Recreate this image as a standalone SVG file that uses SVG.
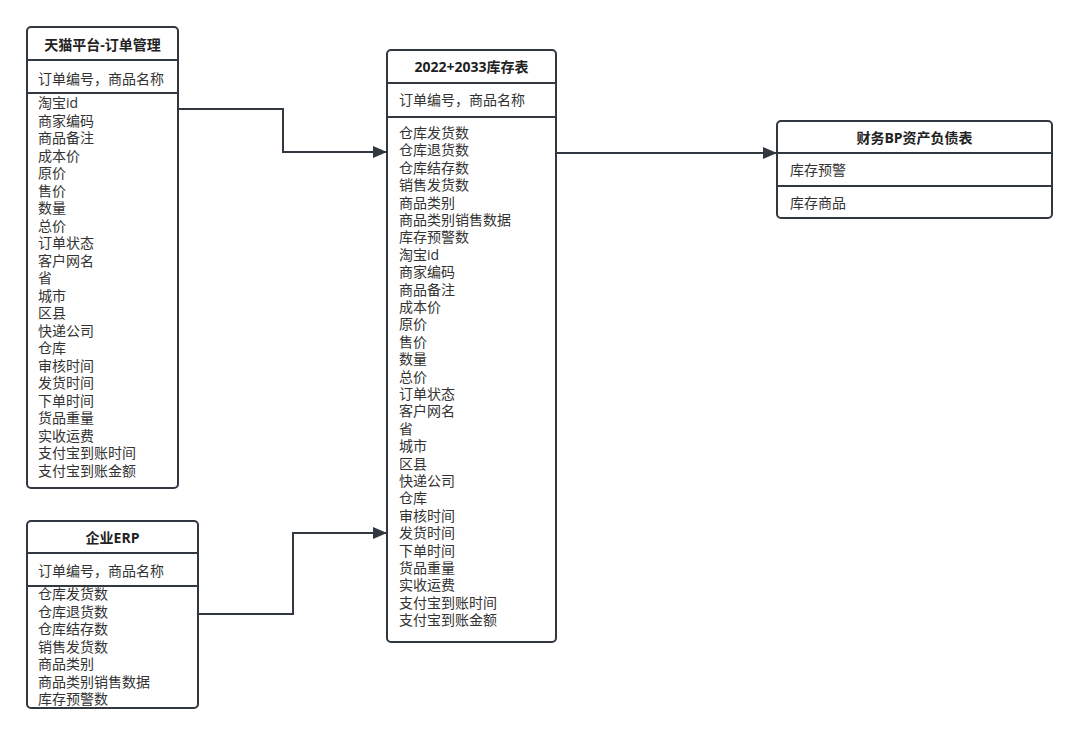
<svg xmlns="http://www.w3.org/2000/svg" width="1080" height="734" viewBox="0 0 1080 734">
<defs>
<style>
.box{fill:#fff;stroke:#323840;stroke-width:2}
.div{stroke:#323840;stroke-width:2}
.t{font-family:"Open Sans","Noto Sans CJK SC",sans-serif;font-size:14px;font-weight:bold;fill:#222;text-anchor:middle}
.s{font-family:"Open Sans","Noto Sans CJK SC",sans-serif;font-size:14px;fill:#333}
.c{fill:none;stroke:#323840;stroke-width:2}
</style>
<marker id="arrow" viewBox="0 0 14 12" refX="14" refY="6" markerWidth="14" markerHeight="12" markerUnits="userSpaceOnUse" orient="auto">
<path d="M0,0 L14,6 L0,12 z" fill="#323840"/>
</marker>
</defs>

<g id="connectors">
<path class="c" d="M178,109 H283 V152 H387" marker-end="url(#arrow)"/>
<path class="c" d="M198,614 H293 V533 H387" marker-end="url(#arrow)"/>
<path class="c" d="M556,153 H777" marker-end="url(#arrow)"/>
</g>

<g id="tmall">
<rect class="box" x="27" y="27" width="151" height="461" rx="4"/>
<line class="div" x1="27" y1="60" x2="178" y2="60"/>
<line class="div" x1="27" y1="93" x2="178" y2="93"/>
<text class="t" x="102.5" y="50">天猫平台-订单管理</text>
<text class="s" x="38" y="84">订单编号，商品名称</text>
<text class="s" x="38" y="108">
<tspan x="38" dy="0">淘宝id</tspan>
<tspan x="38" dy="17.5">商家编码</tspan>
<tspan x="38" dy="17.5">商品备注</tspan>
<tspan x="38" dy="17.5">成本价</tspan>
<tspan x="38" dy="17.5">原价</tspan>
<tspan x="38" dy="17.5">售价</tspan>
<tspan x="38" dy="17.5">数量</tspan>
<tspan x="38" dy="17.5">总价</tspan>
<tspan x="38" dy="17.5">订单状态</tspan>
<tspan x="38" dy="17.5">客户网名</tspan>
<tspan x="38" dy="17.5">省</tspan>
<tspan x="38" dy="17.5">城市</tspan>
<tspan x="38" dy="17.5">区县</tspan>
<tspan x="38" dy="17.5">快递公司</tspan>
<tspan x="38" dy="17.5">仓库</tspan>
<tspan x="38" dy="17.5">审核时间</tspan>
<tspan x="38" dy="17.5">发货时间</tspan>
<tspan x="38" dy="17.5">下单时间</tspan>
<tspan x="38" dy="17.5">货品重量</tspan>
<tspan x="38" dy="17.5">实收运费</tspan>
<tspan x="38" dy="17.5">支付宝到账时间</tspan>
<tspan x="38" dy="17.5">支付宝到账金额</tspan>
</text>
</g>

<g id="erp">
<rect class="box" x="27" y="521" width="171" height="187" rx="4"/>
<line class="div" x1="27" y1="553" x2="198" y2="553"/>
<line class="div" x1="27" y1="586" x2="198" y2="586"/>
<text class="t" x="112.5" y="543">企业ERP</text>
<text class="s" x="38" y="576">订单编号，商品名称</text>
<text class="s" x="38" y="599">
<tspan x="38" dy="0">仓库发货数</tspan>
<tspan x="38" dy="17.5">仓库退货数</tspan>
<tspan x="38" dy="17.5">仓库结存数</tspan>
<tspan x="38" dy="17.5">销售发货数</tspan>
<tspan x="38" dy="17.5">商品类别</tspan>
<tspan x="38" dy="17.5">商品类别销售数据</tspan>
<tspan x="38" dy="17.5">库存预警数</tspan>
</text>
</g>

<g id="inventory">
<rect class="box" x="387" y="50" width="169" height="592" rx="4"/>
<line class="div" x1="387" y1="83" x2="556" y2="83"/>
<line class="div" x1="387" y1="117" x2="556" y2="117"/>
<text class="t" x="471.5" y="72">2022+2033库存表</text>
<text class="s" x="399" y="105">订单编号，商品名称</text>
<text class="s" x="399" y="138">
<tspan x="399" dy="0">仓库发货数</tspan>
<tspan x="399" dy="17.4">仓库退货数</tspan>
<tspan x="399" dy="17.4">仓库结存数</tspan>
<tspan x="399" dy="17.4">销售发货数</tspan>
<tspan x="399" dy="17.4">商品类别</tspan>
<tspan x="399" dy="17.4">商品类别销售数据</tspan>
<tspan x="399" dy="17.4">库存预警数</tspan>
<tspan x="399" dy="17.4">淘宝id</tspan>
<tspan x="399" dy="17.4">商家编码</tspan>
<tspan x="399" dy="17.4">商品备注</tspan>
<tspan x="399" dy="17.4">成本价</tspan>
<tspan x="399" dy="17.4">原价</tspan>
<tspan x="399" dy="17.4">售价</tspan>
<tspan x="399" dy="17.4">数量</tspan>
<tspan x="399" dy="17.4">总价</tspan>
<tspan x="399" dy="17.4">订单状态</tspan>
<tspan x="399" dy="17.4">客户网名</tspan>
<tspan x="399" dy="17.4">省</tspan>
<tspan x="399" dy="17.4">城市</tspan>
<tspan x="399" dy="17.4">区县</tspan>
<tspan x="399" dy="17.4">快递公司</tspan>
<tspan x="399" dy="17.4">仓库</tspan>
<tspan x="399" dy="17.4">审核时间</tspan>
<tspan x="399" dy="17.4">发货时间</tspan>
<tspan x="399" dy="17.4">下单时间</tspan>
<tspan x="399" dy="17.4">货品重量</tspan>
<tspan x="399" dy="17.4">实收运费</tspan>
<tspan x="399" dy="17.4">支付宝到账时间</tspan>
<tspan x="399" dy="17.4">支付宝到账金额</tspan>
</text>
</g>

<g id="finance">
<rect class="box" x="777" y="121" width="275" height="97" rx="4"/>
<line class="div" x1="777" y1="153" x2="1052" y2="153"/>
<line class="div" x1="777" y1="186" x2="1052" y2="186"/>
<text class="t" x="914.5" y="143">财务BP资产负债表</text>
<text class="s" x="790" y="175">库存预警</text>
<text class="s" x="790" y="208">库存商品</text>
</g>
</svg>
